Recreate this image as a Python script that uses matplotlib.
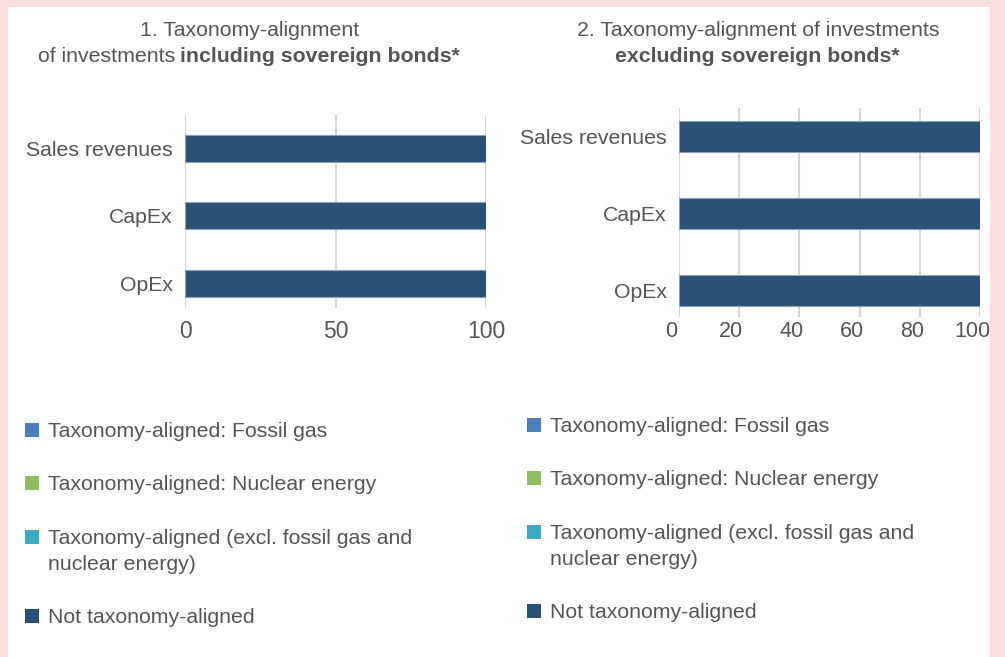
import matplotlib.pyplot as plt
from matplotlib.patches import Rectangle
from matplotlib.transforms import ScaledTranslation
import numpy as np

plt.rcParams['font.family'] = ['Liberation Sans', 'DejaVu Sans']

categories = ['OpEx', 'CapEx', 'Sales revenues']
series_names = ['Taxonomy-aligned: Fossil gas',
                'Taxonomy-aligned: Nuclear energy',
                'Taxonomy-aligned (excl. fossil gas and\nnuclear energy)',
                'Not taxonomy-aligned']
colors = ['#4a7fbb', '#8fbe5e', '#3aabc2', '#2a5277']

# values per category (OpEx, CapEx, Sales revenues)
incl_fossil = [0, 0, 0]
incl_nuclear = [0, 0, 0]
incl_aligned = [0, 0, 0]
incl_not = [100, 100, 100]

excl_fossil = [0, 0, 0]
excl_nuclear = [0, 0, 0]
excl_aligned = [0, 0, 0]
excl_not = [100, 100, 100]

W, H = 1005, 657
TXT = '#555555'
FS = 15.3
fig = plt.figure(figsize=(W / 100, H / 100), dpi=100)
fig.patch.set_facecolor('#f9dfdf')
fig.add_artist(Rectangle((8 / W, 0), (990 - 8) / W, 1 - 7 / H,
                         transform=fig.transFigure, facecolor='white',
                         edgecolor='none', zorder=0))


def px(x, y):
    return x / W, 1 - y / H


def draw(ax, data, ticks, ylim, xpad, xsize):
    y = np.arange(len(categories))
    left = np.zeros(len(categories))
    for vals, col in zip(data, colors):
        ax.barh(y, vals, left=left, height=0.4, color=col,
                edgecolor='#8d9fb2', linewidth=0.8, zorder=3)
        left += np.array(vals)
    ax.set_xlim(0, 100)
    ax.set_ylim(*ylim)
    ax.set_xticks(ticks)
    ax.set_yticks(y)
    ax.set_yticklabels(categories)
    ax.grid(axis='x', color='#d6d6d6', linewidth=1.5, zorder=0)
    ax.set_axisbelow(True)
    for s in ax.spines.values():
        s.set_visible(False)
    ax.tick_params(axis='x', length=0, pad=xpad, labelsize=xsize, labelcolor=TXT)
    ax.tick_params(axis='y', length=0, pad=9, labelsize=FS, labelcolor=TXT)
    ax.set_facecolor('none')


ax1 = fig.add_axes([185 / W, 1 - 308 / H, 301 / W, 193 / H])
draw(ax1, [incl_fossil, incl_nuclear, incl_aligned, incl_not],
     [0, 50, 100], (-0.36, 2.49), 9, 16.5)

ax2 = fig.add_axes([679 / W, 1 - 317 / H, 301 / W, 209 / H])
draw(ax2, [excl_fossil, excl_nuclear, excl_aligned, excl_not],
     [0, 20, 40, 60, 80, 100], (-0.344, 2.37), 3, 15.5)
shift = ScaledTranslation(-8 / 100, 0, fig.dpi_scale_trans)
for lab in ax2.get_xticklabels():
    lab.set_transform(lab.get_transform() + shift)

# titles
fig.text(*px(250, 31), '1. Taxonomy-alignment', ha='center', va='center',
         fontsize=FS, color=TXT)
fig.text(*px(175, 56), 'of investments', ha='right', va='center',
         fontsize=FS, color=TXT)
fig.text(*px(180, 56), 'including sovereign bonds*', ha='left', va='center',
         fontsize=FS, color=TXT, fontweight='bold')
fig.text(*px(758, 31), '2. Taxonomy-alignment of investments', ha='center',
         va='center', fontsize=FS, color=TXT)
fig.text(*px(757, 56), 'excluding sovereign bonds*', ha='center',
         va='center', fontsize=FS, color=TXT, fontweight='bold')

# legends
legend_rows = [
    (25, 48, [430, 483, 537, 616]),
    (527, 550, [425, 478, 532, 611]),
]
for sx, tx, rows in legend_rows:
    for name, col, ry in zip(series_names, colors, rows):
        x0, y0 = px(sx, ry + 7)
        fig.add_artist(Rectangle((x0, y0), 14 / W, 14 / H,
                                 transform=fig.transFigure, facecolor=col,
                                 edgecolor='none'))
        fig.text(*px(tx, ry - 8), name, ha='left', va='top', fontsize=FS,
                 color=TXT, linespacing=1.45)

fig.savefig('out.png', dpi=100, facecolor=fig.get_facecolor())
